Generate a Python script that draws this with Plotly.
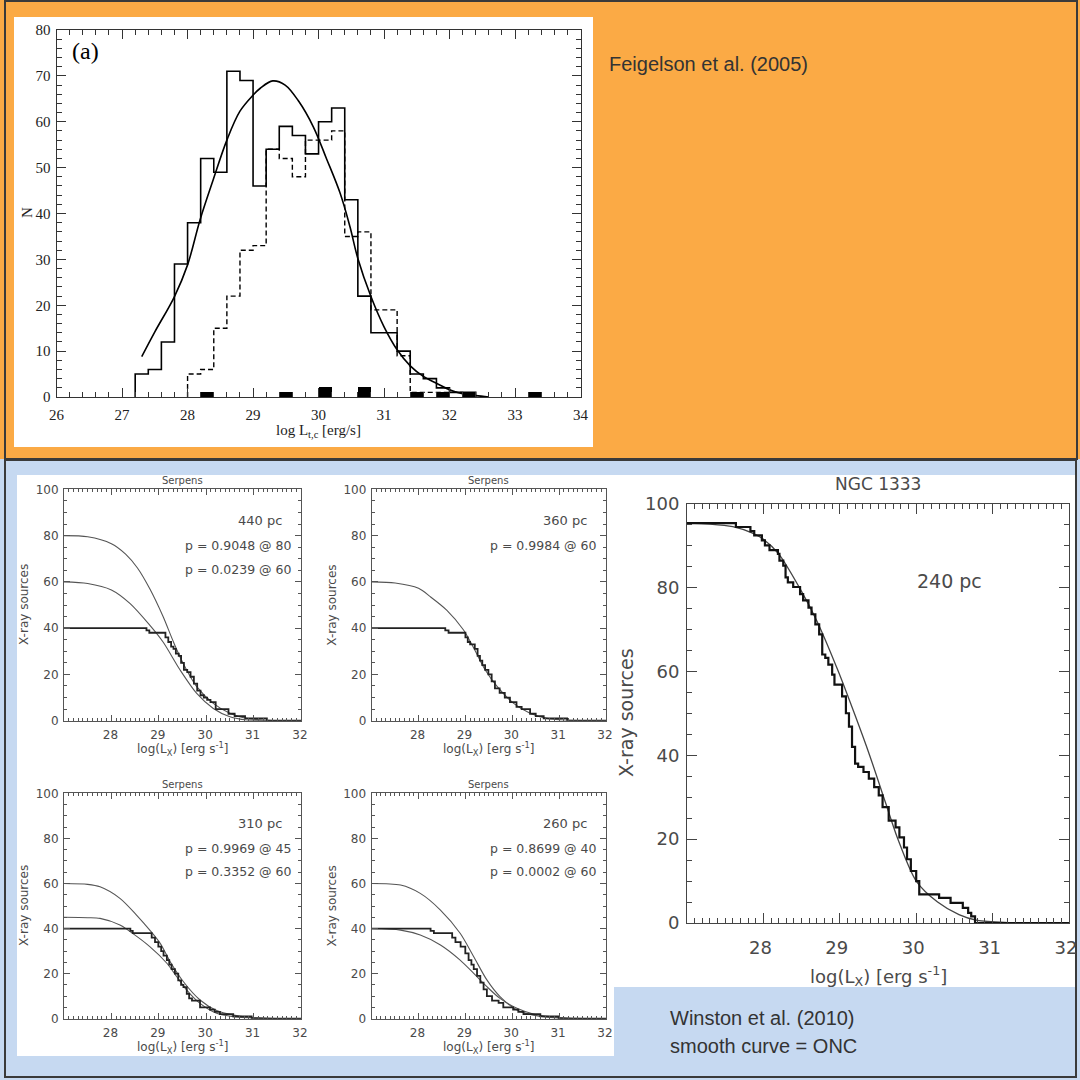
import plotly.graph_objects as go

# ======================= DATA =======================
# (a) Feigelson et al. (2005) histogram, bin width 0.2
hist_bin = 0.2
hist_solid_left = [27.2, 27.4, 27.6, 27.8, 28.0, 28.2, 28.4, 28.6, 28.8, 29.0, 29.2, 29.4, 29.6,
                   29.8, 30.0, 30.2, 30.4, 30.6, 30.8, 31.0, 31.2, 31.4, 31.6, 31.8, 32.0, 32.2]
hist_solid_n = [5, 6, 12, 29, 38, 52, 49, 71, 69, 46, 54, 59, 57,
                53, 60, 63, 43, 22, 14, 14, 10, 5, 4, 2, 1, 1]
hist_dash_left = [28.0, 28.2, 28.4, 28.6, 28.8, 29.0, 29.2, 29.4, 29.6, 29.8, 30.0, 30.2, 30.4,
                  30.6, 30.8, 31.0, 31.2, 31.4, 31.6, 31.8, 32.0]
hist_dash_n = [5, 6, 15, 22, 32, 33, 54, 52, 48, 56, 56, 58, 35,
               36, 19, 19, 9, 1, 1, 1, 1]
hist_fill_left = [28.2, 29.4, 30.0, 30.6, 31.4, 31.8, 32.2, 33.2]
hist_fill_n = [1.1, 1.1, 2.1, 2.1, 1.1, 1.1, 1.1, 1.1]
hist_curve_x = [27.3, 27.5, 27.8, 28.0, 28.19, 28.39, 28.6, 28.8, 29.0, 29.11, 29.3, 29.49, 29.7, 29.92,
                30.12, 30.33, 30.48, 30.6, 30.8, 31.0, 31.2, 31.4, 31.6, 31.8, 32.0, 32.2, 32.4, 32.6]
hist_curve_y = [8.8, 14.2, 21.9, 28.8, 38.6, 47.3, 56.0, 62.3, 65.8, 67.3, 68.9, 68.0, 64.4, 58.9,
                52.0, 44.4, 37.1, 30.2, 21.9, 15.3, 10.3, 6.8, 4.5, 3.0, 1.6, 0.7, 0.3, 0.0]

# Serpens 440 pc
p1_step_x = [27.0, 28.74, 28.80, 29.14, 29.20, 29.26, 29.31, 29.36, 29.42, 29.47, 29.53, 29.60, 29.67,
             29.74, 29.81, 29.88, 29.95, 30.02, 30.09, 30.20, 30.47, 30.60, 30.82, 31.28, 32.0]
p1_step_y = [40, 39, 38, 36, 34, 32, 31, 29, 28, 25, 22, 21, 19,
             16, 13, 11, 10, 9, 8, 5, 3, 2, 1, 0, 0]
p1_c80_x = [27.0, 27.5, 28.0, 28.3, 28.55, 28.81, 29.09, 29.31, 29.52, 29.80, 30.15, 30.50, 30.85, 31.3, 32.0]
p1_c80_y = [80, 79.5, 76.5, 72, 66, 57, 45, 34, 24.5, 14.7, 7.5, 3.2, 1.0, 0.2, 0]
p1_c60_x = [27.0, 27.5, 28.0, 28.39, 28.8, 29.09, 29.45, 29.80, 30.15, 30.50, 30.85, 31.3, 32.0]
p1_c60_y = [60, 59.3, 56.5, 50.7, 41.5, 34.0, 21.9, 11.8, 5.3, 1.7, 0.3, 0.05, 0]

# Serpens 360 pc
p2_step_x = [27.0, 28.57, 28.64, 29.00, 29.05, 29.10, 29.20, 29.26, 29.31, 29.36, 29.42, 29.49,
             29.56, 29.63, 29.73, 29.84, 29.95, 30.09, 30.20, 30.38, 30.50, 30.67, 31.17, 32.0]
p2_step_y = [40, 39, 38, 36, 34, 33, 31, 28, 26, 24, 22, 20,
             17, 14, 12, 10, 8, 6, 5, 3, 2, 1, 0, 0]
p2_c60_x = [27.0, 27.5, 28.0, 28.25, 28.6, 28.96, 29.18, 29.42, 29.68, 30.03, 30.38, 30.74, 31.1, 31.6, 32.0]
p2_c60_y = [60, 59.5, 57.2, 53.6, 47.8, 39.2, 31.3, 22, 14.7, 7.5, 3.2, 1.0, 0.3, 0.05, 0]

# Serpens 310 pc
p3_step_x = [27.0, 28.40, 28.45, 28.85, 28.92, 28.99, 29.05, 29.10, 29.17, 29.22, 29.27, 29.34, 29.41,
             29.47, 29.52, 29.59, 29.64, 29.70, 29.87, 30.08, 30.18, 30.29, 30.57, 30.96, 32.0]
p3_step_y = [40, 39, 38, 36, 34, 32, 30, 28, 26, 24, 22, 20, 17,
             15, 14, 11, 9, 8, 5, 4, 3, 2, 1, 0, 0]
p3_c60_x = [27.0, 27.5, 27.76, 28.18, 28.53, 28.81, 29.03, 29.24, 29.52, 29.87, 30.22, 30.57, 30.92, 31.27, 32.0]
p3_c60_y = [60, 59.6, 58.5, 53.4, 46, 39.3, 33.4, 25.3, 16.4, 8.3, 3.6, 1.6, 0.6, 0.2, 0]
p3_c45_x = [27.0, 27.5, 27.76, 28.18, 28.35, 28.81, 29.17, 29.38, 29.59, 29.87, 30.22, 30.57, 31.0, 32.0]
p3_c45_y = [45, 44.8, 44.5, 41.6, 39.3, 32, 24.6, 18.6, 12.7, 6.8, 2.4, 0.9, 0.3, 0]

# Serpens 260 pc
p4_step_x = [27.0, 28.26, 28.33, 28.72, 28.79, 28.90, 29.00, 29.07, 29.13, 29.18, 29.25, 29.32,
             29.39, 29.46, 29.57, 29.71, 29.81, 30.02, 30.13, 30.24, 30.60, 30.99, 32.0]
p4_step_y = [40, 39, 38, 36, 34, 32, 29, 26, 24, 22, 19, 16,
             13, 10, 8, 7, 5, 4, 3, 2, 1, 0, 0]
p4_c60_x = [27.0, 27.62, 28.04, 28.47, 28.89, 29.18, 29.46, 29.74, 30.1, 30.45, 30.8, 31.16, 32.0]
p4_c60_y = [60, 59.3, 55.6, 48.2, 37.9, 27.5, 17.2, 9.8, 3.9, 1.6, 0.6, 0.2, 0]
p4_c40_x = [27.0, 27.62, 28.04, 28.47, 28.89, 29.18, 29.46, 29.74, 30.1, 30.45, 30.8, 31.16, 32.0]
p4_c40_y = [40, 39.3, 37.1, 32.7, 26, 20.1, 14.2, 9.0, 4.6, 2.1, 0.9, 0.3, 0]

# NGC 1333, 240 pc
ngc_step_x = [27.0, 27.64, 27.83, 27.88, 27.98, 28.02, 28.08, 28.19, 28.21, 28.26, 28.29, 28.32, 28.39,
              28.48, 28.52, 28.59, 28.63, 28.68, 28.73, 28.77, 28.81, 28.85, 28.90, 28.93, 29.03, 29.08,
              29.12, 29.16, 29.20, 29.24, 29.31, 29.38, 29.45, 29.51, 29.56, 29.64, 29.73, 29.78, 29.84,
              29.88, 29.93, 30.00, 30.04, 30.30, 30.45, 30.61, 30.68, 30.72, 30.77, 32.0]
ngc_step_y = [95.3, 94.4, 93.4, 92.4, 91.2, 90.0, 88.9, 88.0, 86.4, 85.2, 82.4, 81.2, 80.1,
              78.4, 76.9, 75.2, 73.6, 71.2, 68.8, 64.0, 63.2, 61.6, 59.2, 56.8, 54.0, 50.0,
              46.8, 42.0, 38.0, 37.2, 36.0, 34.4, 32.4, 30.4, 27.6, 24.4, 22.8, 20.4, 18.0,
              15.2, 12.4, 10.0, 6.8, 6.0, 4.8, 3.6, 2.4, 1.6, 0.0, 0.0]
ngc_curve_x = [27.0, 27.3, 27.6, 27.85, 28.0, 28.2, 28.47, 28.7, 28.98, 29.2, 29.39, 29.6, 29.76,
               30.0, 30.28, 30.56, 30.8, 31.2, 32.0]
ngc_curve_y = [95.3, 95.1, 94.5, 93.0, 91.5, 88.0, 80.0, 72.0, 60.0, 49.5, 40.0, 28.6, 20.0,
               10.0, 5.0, 2.0, 0.6, 0.1, 0.0]

serp_panels = [
    dict(dist="440 pc", ptext=["p = 0.9048 @ 80", "p = 0.0239 @ 60"]),
    dict(dist="360 pc", ptext=["p = 0.9984 @ 60"]),
    dict(dist="310 pc", ptext=["p = 0.9969 @ 45", "p = 0.3352 @ 60"]),
    dict(dist="260 pc", ptext=["p = 0.8699 @ 40", "p = 0.0002 @ 60"]),
]

# ======================= LAYOUT HELPERS =======================
W = H = 1080
def px(x):
    return x / W
def py(y):
    return 1 - y / H

ORANGE = "#FBAA45"
BLUE = "#C6D9F1"
DARK = "#3a3a3a"
SERIF = "Liberation Serif"
SANS = "DejaVu Sans"
GREY = "#4a4a4a"

fig = go.Figure()

def step_hist(left, counts, width):
    xs = [left[0]] + list(left) + [left[-1] + width]
    ys = [0] + list(counts) + [0]
    return xs, ys

# ---- (a) histogram traces ----
sx, sy = step_hist(hist_solid_left, hist_solid_n, hist_bin)
fig.add_trace(go.Scatter(x=sx, y=sy, mode="lines", line=dict(color="black", width=1.6, shape="hv"),
                         xaxis="x", yaxis="y"))
dx, dy = step_hist(hist_dash_left, hist_dash_n, hist_bin)
fig.add_trace(go.Scatter(x=dx, y=dy, mode="lines",
                         line=dict(color="black", width=1.4, shape="hv", dash="5px,3px"),
                         xaxis="x", yaxis="y"))
fig.add_trace(go.Bar(x=hist_fill_left, y=hist_fill_n, width=hist_bin, offset=0,
                     marker=dict(color="black", line=dict(width=0)), xaxis="x", yaxis="y"))
fig.add_trace(go.Scatter(x=hist_curve_x, y=hist_curve_y, mode="lines",
                         line=dict(color="black", width=1.6, shape="spline"), xaxis="x", yaxis="y"))

# ---- Serpens traces ----
serp_data = [
    (p1_step_x, p1_step_y, [(p1_c80_x, p1_c80_y), (p1_c60_x, p1_c60_y)]),
    (p2_step_x, p2_step_y, [(p2_c60_x, p2_c60_y)]),
    (p3_step_x, p3_step_y, [(p3_c60_x, p3_c60_y), (p3_c45_x, p3_c45_y)]),
    (p4_step_x, p4_step_y, [(p4_c60_x, p4_c60_y), (p4_c40_x, p4_c40_y)]),
]
for i, (stx, sty, curves) in enumerate(serp_data):
    ax = str(i + 2)
    for cx, cy in curves:
        fig.add_trace(go.Scatter(x=cx, y=cy, mode="lines",
                                 line=dict(color="#555555", width=1.1, shape="spline", smoothing=0.8),
                                 xaxis="x" + ax, yaxis="y" + ax))
    fig.add_trace(go.Scatter(x=stx, y=sty, mode="lines",
                             line=dict(color="#222222", width=1.8, shape="hv"),
                             xaxis="x" + ax, yaxis="y" + ax))

# ---- NGC 1333 traces ----
fig.add_trace(go.Scatter(x=ngc_curve_x, y=ngc_curve_y, mode="lines",
                         line=dict(color="#444444", width=1.3, shape="spline", smoothing=0.8),
                         xaxis="x6", yaxis="y6"))
fig.add_trace(go.Scatter(x=ngc_step_x, y=ngc_step_y, mode="lines",
                         line=dict(color="#111111", width=2.2, shape="hv"),
                         xaxis="x6", yaxis="y6"))

# ======================= AXES =======================
def axis(domain, rng, tickvals, minor_dtick, minor_tick0, font, ticklen, minorlen, anchor,
         linecolor, standoff=None, shift=None):
    d = dict(domain=domain, range=rng, tickmode="array", tickvals=tickvals,
             ticks="inside", ticklen=ticklen, tickwidth=1, tickcolor=linecolor,
             showline=True, linecolor=linecolor, linewidth=1, mirror="ticks",
             showgrid=False, zeroline=False, tickfont=font, anchor=anchor,
             automargin=False, fixedrange=True, ticklabeloverflow="allow",
             minor=dict(ticks="inside", ticklen=minorlen, tickcolor=linecolor, tickwidth=1,
                        dtick=minor_dtick, tick0=minor_tick0, showgrid=False))
    if standoff is not None:
        d["ticklabelstandoff"] = standoff
    if shift is not None:
        d["ticklabelshift"] = shift
    return d

hist_font = dict(family=SERIF, size=15, color="#222222")
fig.update_layout(
    xaxis=axis([px(56.6), px(580.5)], [26, 34], list(range(26, 35)), 0.2, 26, hist_font, 9, 5, "y",
               "#333333", 4),
    yaxis=axis([py(397), py(30)], [0, 80], list(range(0, 81, 10)), 2, 0, hist_font, 9, 5, "x",
               "#333333", 2),
)

serp_font = dict(family=SANS, size=12, color=GREY)
serp_boxes = [
    (64, 301, 489.3, 720.7),
    (371.7, 606, 489.3, 720.7),
    (64, 301, 793.3, 1018.7),
    (371.5, 606, 793.3, 1018.7),
]
for i, (l, r, t, b) in enumerate(serp_boxes):
    n = str(i + 2)
    fig.update_layout({
        "xaxis" + n: axis([px(l), px(r)], [27, 32], [28, 29, 30, 31, 32], 0.1, 27, serp_font, 6, 3,
                          "y" + n, "#555555", 3, -1),
        "yaxis" + n: axis([py(b), py(t)], [0, 100], [0, 20, 40, 60, 80, 100], 5, 0, serp_font, 6, 3,
                          "x" + n, "#555555", 2),
    })

ngc_font = dict(family=SANS, size=18, color=GREY)
fig.update_layout(
    xaxis6=axis([px(687), px(1069)], [27, 32], [28, 29, 30, 31, 32], 0.1, 27, ngc_font, 10, 5, "y6",
                "#444444", 8, -3),
    yaxis6=axis([py(923), py(503.5)], [0, 100], [0, 20, 40, 60, 80, 100], 5, 0, ngc_font, 10, 5, "x6",
                "#444444", 3),
)

# ======================= BACKGROUND SHAPES =======================
shapes = [
    dict(type="rect", xref="paper", yref="paper", x0=0, x1=1, y0=py(459), y1=1,
         fillcolor=ORANGE, line=dict(width=0), layer="below"),
    dict(type="rect", xref="paper", yref="paper", x0=0, x1=1, y0=0, y1=py(459),
         fillcolor=BLUE, line=dict(width=0), layer="below"),
    dict(type="rect", xref="paper", yref="paper", x0=px(5), x1=px(1077), y0=py(459), y1=py(1),
         line=dict(color=DARK, width=2), layer="below"),
    dict(type="rect", xref="paper", yref="paper", x0=px(5), x1=px(1076), y0=py(1077), y1=py(460),
         line=dict(color=DARK, width=2), layer="below"),
    dict(type="rect", xref="paper", yref="paper", x0=px(14), x1=px(593), y0=py(447), y1=py(17),
         fillcolor="white", line=dict(width=0), layer="below"),
    dict(type="rect", xref="paper", yref="paper", x0=px(17), x1=px(614), y0=py(1056), y1=py(475),
         fillcolor="white", line=dict(width=0), layer="below"),
    dict(type="rect", xref="paper", yref="paper", x0=px(614), x1=px(1075), y0=py(987), y1=py(475),
         fillcolor="white", line=dict(width=0), layer="below"),
]

# ======================= ANNOTATIONS =======================
ann = []
def txt(text, X, Y, size, family=SANS, color=GREY, xanchor="center", yanchor="middle", angle=0):
    ann.append(dict(text=text, xref="paper", yref="paper", x=px(X), y=py(Y), showarrow=False,
                    xanchor=xanchor, yanchor=yanchor, textangle=angle,
                    font=dict(family=family, size=size, color=color)))

# top panel
txt("(a)", 85, 51, 24, family=SERIF, color="black")
txt("log L<sub>t,c</sub> [erg/s]", 318, 431, 15, family=SERIF, color="#222222")
txt("N", 27, 213, 15, family=SERIF, color="#222222", angle=-90)
txt("Feigelson et al. (2005)", 607, 64, 20, family="Liberation Sans", color="#333333", xanchor="left")

# Serpens panels
for i, (l, r, t, b) in enumerate(serp_boxes):
    info = serp_panels[i]
    cx = (l + r) / 2
    txt("Serpens", cx, t - 9, 10)
    txt("log(L<sub>X</sub>) [erg s<sup>-1</sup>]", cx, b + 28, 12)
    txt("X-ray sources", l - 40, (t + b) / 2, 12, angle=-90)
    h = b - t
    txt(info["dist"], r - 17, t + 0.135 * h, 13, xanchor="right")
    for k, p in enumerate(info["ptext"]):
        txt(p, r - 8, t + (0.245 + 0.1 * k) * h, 12.5, xanchor="right")

# NGC 1333
txt("NGC 1333", 878, 484, 17)
txt("log(L<sub>X</sub>) [erg s<sup>-1</sup>]", 878, 976, 18)
txt("X-ray sources", 626, 713, 19, angle=-90)
txt("240 pc", 949, 581, 19)

# Winston text
txt("Winston et al. (2010)", 668, 1018, 20, family="Liberation Sans", color="#333333", xanchor="left")
txt("smooth curve = ONC", 668, 1046, 20, family="Liberation Sans", color="#333333", xanchor="left")

fig.update_layout(
    width=W, height=H, margin=dict(l=0, r=0, t=0, b=0, pad=0),
    paper_bgcolor="white", plot_bgcolor="rgba(0,0,0,0)",
    showlegend=False, shapes=shapes, annotations=ann, bargap=0,
)

fig.write_html("out.html")
